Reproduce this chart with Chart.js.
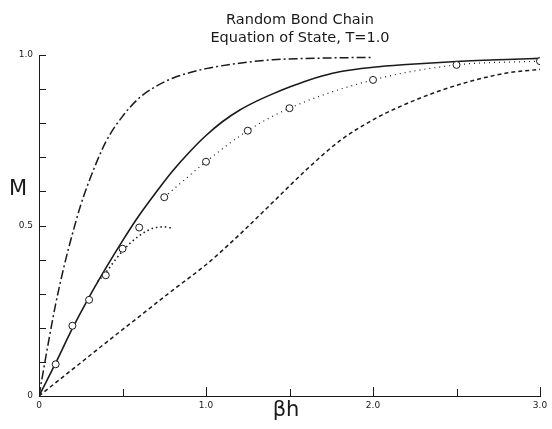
<!DOCTYPE html>
<html>
<head>
<meta charset="utf-8">
<script src="https://cdn.jsdelivr.net/npm/chart.js@4"></script>
<style>
  html, body { margin: 0; padding: 0; background: #fff; }
  #wrap { width: 552px; height: 429px; }
</style>
</head>
<body>
<div id="wrap"><canvas id="chart" width="552" height="429"></canvas></div>
<script>
// exact solution (solid)
const solidX = [0, 0.1, 0.2, 0.3, 0.4, 0.5, 0.6, 0.7, 0.8, 0.9, 1.0, 1.1, 1.2, 1.3, 1.4, 1.5, 1.6, 1.7, 1.8, 2.0, 2.2, 2.5, 2.8, 3.0];
const solidY = [0, 0.097, 0.198, 0.29, 0.375, 0.455, 0.53, 0.597, 0.66, 0.715, 0.764, 0.805, 0.838, 0.864, 0.886, 0.906, 0.924, 0.939, 0.951, 0.964, 0.972, 0.981, 0.987, 0.99];

// dash-dot curve
const dashDotX = [0, 0.05, 0.1, 0.15, 0.2, 0.25, 0.3, 0.4, 0.5, 0.6, 0.7, 0.8, 0.9, 1.0, 1.2, 1.4, 1.7, 2.0];
const dashDotY = [0, 0.14, 0.27, 0.38, 0.475, 0.56, 0.63, 0.745, 0.82, 0.874, 0.908, 0.932, 0.948, 0.96, 0.976, 0.986, 0.991, 0.993];

// dashed curve
const dashedX = [0, 0.2, 0.4, 0.6, 0.8, 1.0, 1.2, 1.4, 1.6, 1.8, 2.0, 2.2, 2.4, 2.6, 2.8, 3.0];
const dashedY = [0, 0.078, 0.156, 0.233, 0.31, 0.385, 0.473, 0.568, 0.663, 0.748, 0.81, 0.857, 0.895, 0.925, 0.947, 0.958];

// open circles
const circleX = [0.1, 0.2, 0.3, 0.4, 0.5, 0.6, 0.75, 1.0, 1.25, 1.5, 2.0, 2.5, 3.0];
const circleY = [0.093, 0.206, 0.282, 0.354, 0.432, 0.494, 0.583, 0.687, 0.778, 0.844, 0.927, 0.971, 0.982];

// dotted line through the circles (high field part)
const dottedX = [0.75, 1.0, 1.25, 1.5, 2.0, 2.5, 3.0];
const dottedY = [0.583, 0.687, 0.778, 0.844, 0.927, 0.971, 0.982];

// short dotted curve (low field expansion)
const shortX = [0.35, 0.4, 0.45, 0.5, 0.55, 0.6, 0.65, 0.7, 0.75, 0.8];
const shortY = [0.335, 0.362, 0.395, 0.425, 0.45, 0.47, 0.485, 0.494, 0.496, 0.492];

const xTickLabels = { 0: '0', 10: '1.0', 20: '2.0', 30: '3.0' };
const yTickLabels = { 0: '0', 5: '0.5', 10: '1.0' };

const INK = '#1a1a1a';
const FONT = '"DejaVu Sans", sans-serif';

function pts(xs, ys) {
    return xs.map((x, i) => ({ x: x, y: ys[i] }));
}

function lineSet(label, xs, ys, dash, width) {
    return {
        label: label,
        data: pts(xs, ys),
        borderColor: INK,
        borderWidth: width,
        borderDash: dash,
        pointRadius: 0,
        fill: false,
        cubicInterpolationMode: 'monotone',
        order: 1
    };
}

// inward tick marks on the axes
const innerTicks = {
    id: 'innerTicks',
    afterDatasetsDraw(chart) {
        const ctx = chart.ctx;
        const xs = chart.scales.x, ys = chart.scales.y;
        const a = chart.chartArea;
        ctx.save();
        ctx.strokeStyle = INK;
        ctx.lineWidth = 1;
        ctx.beginPath();
        for (let i = 1; i <= 10; i++) {
            const py = Math.round(ys.getPixelForValue(i / 10)) + 0.5;
            ctx.moveTo(a.left, py);
            ctx.lineTo(a.left + 7, py);
        }
        for (let i = 1; i <= 6; i++) {
            const px = Math.round(xs.getPixelForValue(i / 2)) + 0.5;
            ctx.moveTo(px, a.bottom);
            ctx.lineTo(px, a.bottom - (i % 2 === 0 ? 9 : 7));
        }
        ctx.stroke();
        ctx.restore();
    }
};

// title and axis names
const labels = {
    id: 'labels',
    afterDraw(chart) {
        const ctx = chart.ctx;
        ctx.save();
        ctx.fillStyle = INK;
        ctx.textAlign = 'center';
        ctx.textBaseline = 'middle';
        ctx.font = '14.5px ' + FONT;
        ctx.fillText('Random Bond Chain', 300, 20);
        ctx.fillText('Equation of State, T=1.0', 300, 38);
        ctx.font = '21px ' + FONT;
        ctx.fillText('M', 18, 190);
        ctx.fillText('\u03b2h', 286, 411);
        ctx.restore();
    }
};

new Chart(document.getElementById('chart'), {
    type: 'line',
    data: {
        datasets: [
            {
                label: 'Data',
                data: pts(circleX, circleY),
                showLine: false,
                pointRadius: 3.5,
                pointBackgroundColor: '#fff',
                pointBorderColor: INK,
                pointBorderWidth: 1,
                order: 0
            },
            lineSet('Solid', solidX, solidY, [], 1.6),
            lineSet('Dash-dot', dashDotX, dashDotY, [9, 3, 2, 3], 1.5),
            lineSet('Dashed', dashedX, dashedY, [4, 3], 1.5),
            lineSet('Dotted', dottedX, dottedY, [1, 4], 1.2),
            lineSet('Short dotted', shortX, shortY, [1.5, 3], 1.6)
        ]
    },
    options: {
        responsive: false,
        animation: false,
        devicePixelRatio: 1,
        layout: { padding: { top: 55, left: 0, right: 12, bottom: 0 } },
        plugins: {
            legend: { display: false },
            tooltip: { enabled: false }
        },
        scales: {
            x: {
                type: 'linear',
                min: 0,
                max: 3,
                afterFit: s => { s.height = 33; },
                grid: { display: false, drawTicks: false },
                border: { display: true, color: INK, width: 1 },
                ticks: {
                    stepSize: 0.5,
                    padding: 4,
                    maxRotation: 0,
                    autoSkip: false,
                    color: INK,
                    font: { family: FONT, size: 9 },
                    callback: v => xTickLabels[Math.round(v * 10)] || ''
                }
            },
            y: {
                type: 'linear',
                min: 0,
                max: 1,
                afterFit: s => { s.width = 39; },
                grid: { display: false, drawTicks: false },
                border: { display: true, color: INK, width: 1 },
                ticks: {
                    stepSize: 0.1,
                    padding: 6,
                    autoSkip: false,
                    color: INK,
                    font: { family: FONT, size: 9 },
                    callback: v => yTickLabels[Math.round(v * 10)] || ''
                }
            }
        }
    },
    plugins: [innerTicks, labels]
});
</script>
</body>
</html>
